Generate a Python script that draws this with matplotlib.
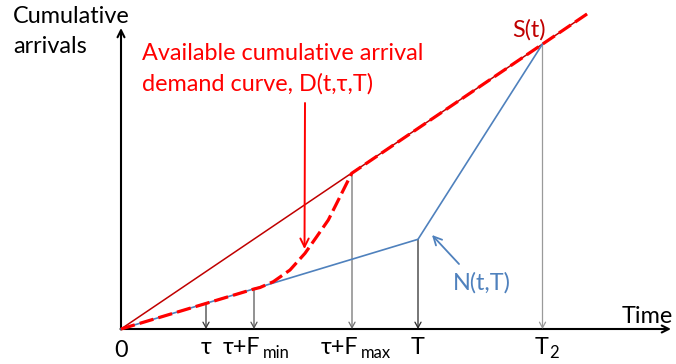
import matplotlib
matplotlib.use("Agg")
import matplotlib.pyplot as plt

# ---------------- data (time units / arrival units) ----------------
tau = 8.5
tau_fmin = 13.3
tau_fmax = 23.1
T = 29.7
T2 = 42.15
t_end = 46.6

S_times = [0.0, 46.6]
S_vals = [0.0, 31.5]

N_times = [0.0, 29.7, 42.15]
N_vals = [0.0, 8.97, 28.5]

D_times = [0.0, 13.3, 13.9, 15.23, 16.9, 18.4, 19.57, 20.73, 21.57, 22.4, 23.07, 46.6]
D_vals = [0.0, 4.0, 4.15, 4.73, 5.9, 7.57, 9.23, 10.9, 12.57, 14.23, 15.57, 31.5]

# vertical drop arrows: (time, value on curve)
drop_times = [8.5, 13.3, 23.1, 29.7, 42.15]
drop_vals = [2.57, 4.0, 15.6, 8.97, 28.5]
drop_colors = ["#3a3a3a", "#555555", "#707070", "#2a2a2a", "#9a9a9a"]

FONT = ["Lato", "DejaVu Sans"]
plt.rcParams["font.family"] = FONT

fig = plt.figure(figsize=(6.76, 3.64), dpi=100)
ax = fig.add_axes([0, 0, 1, 1])
ax.set_xlim(-12.1, 55.5)
ax.set_ylim(-3.5, 32.9)
ax.axis("off")

RED = "#FF0000"
DARKRED = "#C00000"
BLUE = "#4F81BD"

# axes with arrows
ax.annotate("", xy=(0, 30.1), xytext=(0, -0.05),
            arrowprops=dict(arrowstyle="->,head_length=0.5,head_width=0.25",
                            lw=1.5, color="black", shrinkA=0, shrinkB=0))
ax.annotate("", xy=(55.0, 0), xytext=(-0.05, 0),
            arrowprops=dict(arrowstyle="->,head_length=0.5,head_width=0.25",
                            lw=1.5, color="black", shrinkA=0, shrinkB=0))

# vertical drop arrows
for t, v, c in zip(drop_times, drop_vals, drop_colors):
    ax.annotate("", xy=(t, 0), xytext=(t, v),
                arrowprops=dict(arrowstyle="->,head_length=0.4,head_width=0.22",
                                lw=0.9, color=c, shrinkA=0, shrinkB=0))

# curves
ax.plot(S_times, S_vals, color=DARKRED, lw=1.1, solid_capstyle="butt", zorder=3)
ax.plot(N_times, N_vals, color=BLUE, lw=1.2, zorder=3)
ax.plot(D_times, D_vals, color=RED, lw=2.3, linestyle=(0, (4.5, 1.6)), zorder=4)

# pointer arrows
ax.annotate("", xy=(18.35, 8.0), xytext=(18.4, 22.6),
            arrowprops=dict(arrowstyle="->,head_length=0.6,head_width=0.3",
                            lw=1.4, color=RED, shrinkA=0, shrinkB=0))
ax.annotate("", xy=(31.1, 9.4), xytext=(33.8, 6.5),
            arrowprops=dict(arrowstyle="->,head_length=0.6,head_width=0.3",
                            lw=1.3, color=BLUE, shrinkA=0, shrinkB=0))

FS = 16.8
SUB = 12
# texts
ax.text(-10.8, 30.6, "Cumulative", fontsize=FS, ha="left", va="baseline")
ax.text(-10.8, 27.6, "arrivals", fontsize=FS, ha="left", va="baseline")
ax.text(2.1, 26.9, "Available cumulative arrival", fontsize=FS, color=RED,
        ha="left", va="baseline")
ax.text(2.1, 23.83, "demand curve, D(t,τ,T)", fontsize=FS, color=RED,
        ha="left", va="baseline")
ax.text(40.8, 29.2, "S(t)", fontsize=FS, color=DARKRED, ha="center", va="baseline")
ax.text(33.2, 3.9, "N(t,T)", fontsize=FS, color=BLUE, ha="left", va="baseline")
ax.text(55.2, 0.6, "Time", fontsize=FS, ha="right", va="baseline")

# axis labels (below the time axis)
base_y = -2.45
ax.text(0, -2.77, "0", fontsize=FS, ha="center", va="baseline")
ax.text(tau, base_y, "τ", fontsize=FS, ha="center", va="baseline")
ax.text(T, base_y, "T", fontsize=FS, ha="center", va="baseline")


def sub_label(x, main, sub, main_right_px, sub_left_px):
    ax.annotate(main, xy=(x, base_y), xytext=(main_right_px, 0),
                textcoords="offset pixels", fontsize=FS,
                ha="right", va="baseline")
    ax.annotate(sub, xy=(x, base_y), xytext=(sub_left_px, -4),
                textcoords="offset pixels", fontsize=SUB,
                ha="left", va="baseline")


sub_label(tau_fmin, "τ+F", "min", 6.0, 8.5)
sub_label(tau_fmax, "τ+F", "max", 6.5, 9.0)
sub_label(T2, "T", "2", 5.6, 6.5)

fig.savefig("out.png", dpi=100)
